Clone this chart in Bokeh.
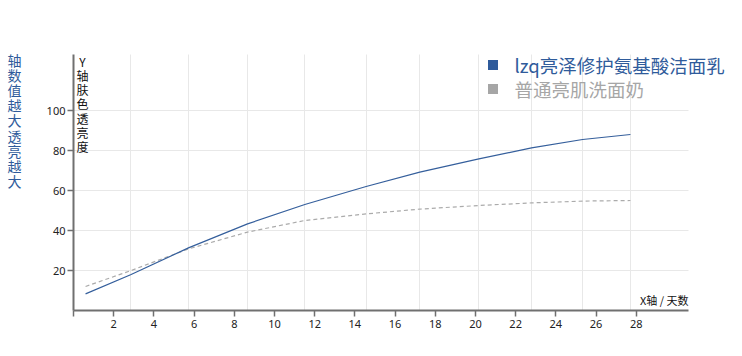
from bokeh.plotting import figure
from bokeh.models import FixedTicker, Label, Legend, LegendItem, Range1d, ColumnDataSource
from bokeh.embed import file_html
from bokeh.resources import INLINE

# ---- data ----
days = [0.6, 2.84, 5.72, 8.66, 11.51, 14.56, 17.23, 20.17, 22.79, 25.33, 27.71]
lzq_values = [8.3, 17.9, 31.3, 43.3, 53.0, 62.0, 69.2, 75.8, 81.3, 85.5, 88.0]
normal_values = [12.0, 19.9, 30.8, 39.2, 45.0, 48.3, 50.7, 52.5, 53.8, 54.7, 55.0]
grid_days = [2.84, 5.72, 8.66, 11.51, 14.56, 17.23, 20.17, 22.79, 25.33, 27.71]
x_ticks = [0, 2, 4, 6, 8, 10, 12, 14, 16, 18, 20, 22, 24, 26, 28]
y_ticks = [20, 40, 60, 80, 100]
series_names = ["lzq亮泽修护氨基酸洁面乳", "普通亮肌洗面奶"]
side_note = "轴数值越大透亮越大"
y_title = "Y轴肤色透亮度"
x_title = "X轴 / 天数"

BLUE = "#2f5b9b"
GRAY = "#a6a6a6"
CJK = "Noto Sans CJK SC"

W, H = 742, 356
PAD_L, PAD_R, PAD_T, PAD_B = 73, 54, 54, 46
X_MAX, Y_MAX = 30.6, 128
ppx = (W - PAD_L - PAD_R) / X_MAX
ppy = (H - PAD_T - PAD_B) / Y_MAX

p = figure(width=W, height=H, output_backend="svg", toolbar_location=None,
           x_range=Range1d(-PAD_L / ppx, X_MAX + PAD_R / ppx),
           y_range=Range1d(-PAD_B / ppy, Y_MAX + PAD_T / ppy),
           min_border=0)
p.outline_line_color = None
p.background_fill_color = "white"
p.border_fill_color = "white"

# grids
p.xgrid.ticker = FixedTicker(ticks=grid_days)
p.ygrid.ticker = FixedTicker(ticks=y_ticks)
p.xgrid.grid_line_color = "#e8e8e8"
p.ygrid.grid_line_color = "#e8e8e8"
p.xgrid.bounds = (0, X_MAX)
p.ygrid.bounds = (0, Y_MAX)
p.xgrid.cross_bounds = (0, Y_MAX)
p.ygrid.cross_bounds = (0, X_MAX)

# axes placed at the origin inside the frame
for ax in (p.xaxis[0], p.yaxis[0]):
    ax.fixed_location = 0
    ax.axis_line_color = "#707070"
    ax.axis_line_width = 2
    ax.major_tick_line_color = "#707070"
    ax.major_tick_line_width = 1.5
    ax.major_tick_out = 6
    ax.major_tick_in = 0
    ax.minor_tick_line_color = None
    ax.major_label_text_font = "Noto Sans"
    ax.major_label_text_font_size = "11px"
    ax.major_label_text_color = "#222222"
p.xaxis.bounds = (0, X_MAX)
p.yaxis.bounds = (0, Y_MAX)
p.xaxis.ticker = FixedTicker(ticks=x_ticks)
p.xaxis.major_label_overrides = {0: ""}
p.xaxis.major_label_standoff = 3
p.yaxis.ticker = FixedTicker(ticks=y_ticks)
p.yaxis.major_label_standoff = 2

src = ColumnDataSource(dict(day=days, lzq=lzq_values, normal=normal_values))
p.line("day", "normal", source=src, line_color="#ababab", line_width=1.2, line_dash="4 3")
p.line("day", "lzq", source=src, line_color="#355f9c", line_width=1.2)

# hidden square markers of each series, used for the legend swatches
sw1 = p.scatter("day", "lzq", source=src, marker="square", size=10, fill_color=BLUE, line_color=None, visible=False)
sw2 = p.scatter("day", "normal", source=src, marker="square", size=10, fill_color=GRAY, line_color=None, visible=False)

for name, rend, color, ly in ((series_names[0], sw1, BLUE, 278.5), (series_names[1], sw2, GRAY, 254.5)):
    leg = Legend(items=[LegendItem(label=name, renderers=[rend])], location=(479.5, ly),
                 padding=0, margin=0, border_line_color=None, background_fill_alpha=0,
                 inactive_fill_alpha=0,
                 glyph_width=25, glyph_height=25, label_standoff=10, label_height=23,
                 label_text_font=CJK, label_text_font_size="18.5px", label_text_color=color)
    p.add_layout(leg)

# texts
p.add_layout(Label(x=14, y=307, x_units="screen", y_units="screen", text="\n".join(side_note),
                   text_align="center", text_baseline="top", text_font=CJK, text_font_size="14px",
                   text_color=BLUE, text_line_height=0.76))
p.add_layout(Label(x=82, y=304, x_units="screen", y_units="screen", text="\n".join(y_title),
                   text_align="center", text_baseline="top", text_font=CJK, text_font_size="12px",
                   text_color="#111111", text_line_height=0.84))
p.add_layout(Label(x=688, y=57, x_units="screen", y_units="screen", text=x_title,
                   text_align="right", text_baseline="middle", text_font=CJK, text_font_size="11px",
                   text_color="#111111"))

open("out.html", "w").write(file_html(p, INLINE))
